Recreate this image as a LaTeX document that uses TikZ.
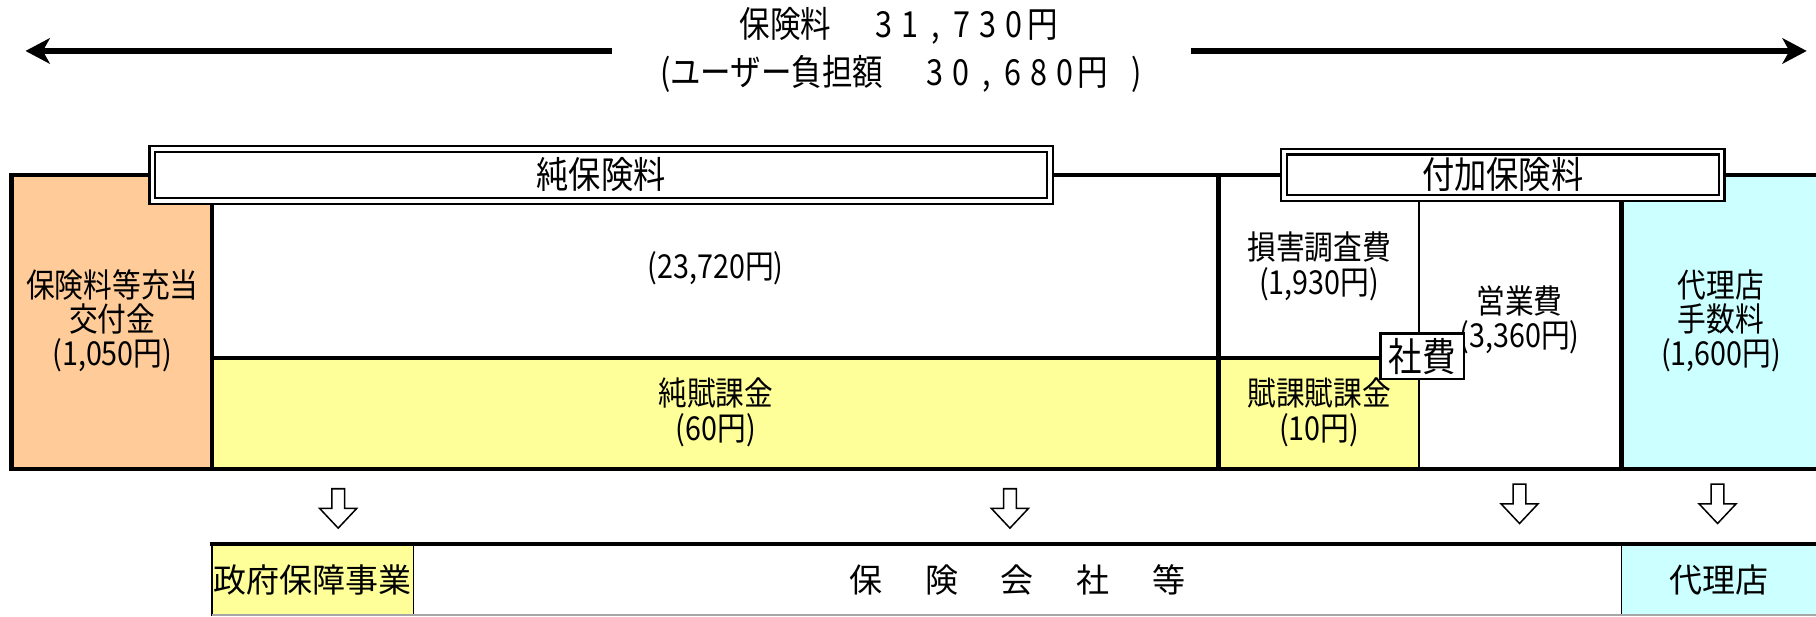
\documentclass[tikz,border=0pt]{standalone}
\usepackage{fontspec}
\setmainfont{Noto Sans CJK JP}
\newfontfamily\bodyf[FakeStretch=0.87]{Noto Sans CJK JP}
\newfontfamily\titlef[FakeStretch=0.85]{Noto Sans CJK JP}
\newfontfamily\plainf{Noto Sans CJK JP}
\usetikzlibrary{arrows.meta}
\definecolor{orangefill}{HTML}{FFCC99}
\definecolor{yellowfill}{HTML}{FFFF99}
\definecolor{cyanfill}{HTML}{CCFFFF}
\newcommand\dgt[1]{\makebox[22.5pt]{#1}}
\begin{document}
\begin{tikzpicture}[x=1pt,y=-1pt,
  thickline/.style={line width=4pt},
  thinline/.style={line width=2pt},
  txt/.style={font=\bodyf\fontsize{28.5}{29.5}\selectfont, align=center, inner sep=0pt},
  lbl/.style={draw, double, double distance=3pt, line width=2pt, fill=white,
    font=\bodyf\fontsize{32}{34}\selectfont, inner sep=0pt},
  ttl/.style={font=\titlef\fontsize{31}{33}\selectfont, inner sep=0pt},
  btm/.style={font=\plainf\fontsize{28.5}{30}\selectfont, inner sep=0pt, minimum height=62pt},
  bigarrow/.style={line width=4.5pt, -{Stealth[length=21pt,width=22pt,inset=6pt]}},
  downarrow/.pic={\draw[line width=1.3pt, fill=white, line join=miter]
     (-5.5,0) -- (5.5,0) -- (5.5,17) -- (16,17) -- (0,34) -- (-16,17) -- (-5.5,17) -- cycle;}
]
\useasboundingbox (0,0) rectangle (1568,532);

% title
\node[ttl] (t1) at (776,22) {保険料\hspace{34pt}\dgt{3}\dgt{1}\dgt{,}\dgt{7}\dgt{3}\dgt{0}円};
\node[ttl] (t2) at (778,64) {(ユーザー負担額\hspace{33pt}\dgt{3}\dgt{0}\dgt{,}\dgt{6}\dgt{8}\dgt{0}円\hspace{20pt})};
\coordinate (la1) at (528,44);
\coordinate (la2) at (22,44);
\coordinate (ra1) at (1028,44);
\coordinate (ra2) at (1560,44);
\draw[bigarrow] (la1) -- (la2);
\draw[bigarrow] (ra1) -- (ra2);

% fills
\fill[orangefill] (10,151) rectangle (183,405);
\fill[white] (183,151) rectangle (1052,309);
\fill[yellowfill] (183,309) rectangle (1052,405);
\fill[white] (1052,151) rectangle (1225,309);
\fill[yellowfill] (1052,309) rectangle (1225,405);
\fill[white] (1225,151) rectangle (1400,405);
\fill[cyanfill] (1400,151) rectangle (1568,405);

% frame lines
\draw[thickline] (10,151) -- (1568,151);
\draw[thickline] (10,149) -- (10,407);
\draw[thickline] (8,405) -- (1568,405);
\draw[thickline] (183,151) -- (183,405);
\draw[thickline] (1052,151) -- (1052,405);
\draw[thickline] (1400,151) -- (1400,405);
\draw[thickline] (183,309) -- (1225,309);
\draw[thinline] (1225,151) -- (1225,405);

% labels
\node[lbl, minimum width=775pt, minimum height=45pt] (jun) at (519,151) {純保険料};
\node[lbl, minimum width=378pt, minimum height=40pt] (fuka) at (1297.5,151) {付加保険料};

% texts
\node[txt] (ora) at (97,277) {保険料等充当\\交付金\\(1,050円)};
\node[txt] (net) at (618,232) {(23,720円)};
\node[txt] (nfk) at (618,356) {純賦課金\\(60円)};
\node[txt] (son) at (1139,230) {損害調査費\\(1,930円)};
\node[txt] (fkk) at (1139,356) {賦課賦課金\\(10円)};
\node[txt] (eig) at (1312,276) {営業費\\(3,360円)};
\node[txt] (dai) at (1486,277) {代理店\\手数料\\(1,600円)};
\node[draw, line width=2pt, fill=white, minimum width=72pt, minimum height=39pt,
  inner sep=0pt, font=\titlef\fontsize{34}{36}\selectfont] (sha) at (1228,307.5) {社費};

% down arrows
\pic (a1) at (292,422) {downarrow};
\pic (a2) at (872,422) {downarrow};
\pic (a3) at (1312,418) {downarrow};
\pic (a4) at (1483,418) {downarrow};

% bottom row
\node[btm, fill=yellowfill, minimum width=174pt] (gov) at (270,501) {政府保障事業};
\node[btm, fill=white, minimum width=1043pt] (ins) at (878.5,501)
  {保\hspace{37pt}険\hspace{37pt}会\hspace{37pt}社\hspace{37pt}等};
\node[btm, fill=cyanfill, minimum width=168pt] (agt) at (1484,501) {代理店};
\draw[line width=3.5pt] (181,470) -- (1568,470);
\draw[line width=1.5pt] (183,470) -- (183,532);
\draw[line width=1.5pt] (357,470) -- (357,532);
\draw[line width=1.5pt] (1400,470) -- (1400,532);
\draw[line width=1.5pt, gray!70] (183,531) -- (1568,531);
\end{tikzpicture}
\end{document}
